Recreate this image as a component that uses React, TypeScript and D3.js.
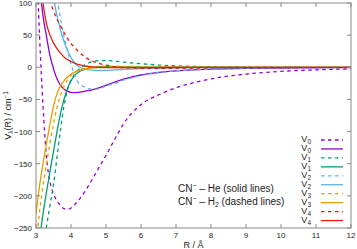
import React from 'react'
import * as d3 from 'd3'

// R grid (Å) shared by all curves
const rGrid = [3.0, 3.1, 3.2, 3.3, 3.4, 3.5, 3.6, 3.7, 3.8, 3.9, 4.0, 4.1, 4.2, 4.4, 4.6, 4.8, 5.0, 5.25, 5.5, 6.0, 6.5, 7.0, 7.5, 8.0, 9.0, 10, 11, 12]

// CN- - H2 (dashed)
const v0H2 = [190, 50, -60, -140, -178, -197, -208, -215, -220, -221, -219, -214, -208, -193, -175, -156, -137, -112, -88, -58, -43, -32, -24, -18, -10.5, -6.3, -4, -2.5]
const v1H2 = [-380, -330, -290, -248, -215, -183, -140, -97, -60, -35, -20, -12, -5, 4, 8.5, 10.3, 10.5, 9.5, 8, 5.5, 3.5, 2.2, 1.3, 0.8, 0.3, 0.1, 0, 0]
const v2H2 = [420, 330, 260, 205, 168, 143, 108, 75, 48, 25, 5, -12, -23, -31, -34, -33.5, -29, -25, -20, -13, -8.5, -5.5, -3.8, -2.7, -1.5, -0.9, -0.6, -0.4]
const v3H2 = [-280, -225, -185, -150, -118, -88, -62, -43, -30, -20, -13, -8, -5, -1.5, 0.5, 1.5, 1.8, 1.7, 1.5, 1, 0.7, 0.5, 0.3, 0.2, 0.1, 0, 0, 0]
const v4H2 = [300, 220, 170, 135, 104, 88, 75, 64, 54, 45, 37, 31, 25, 16, 10, 6, 3.5, 1, -0.5, -1.5, -1.8, -1.6, -1.3, -1, -0.6, -0.4, -0.2, -0.1]

// CN- - He (solid)
const v0He = [190, 130, 80, 48, 18, -2, -18, -28, -34, -37, -39, -39.5, -39, -37, -35, -32, -28, -23, -18.5, -12, -8, -5.5, -4, -3, -1.8, -1.2, -0.8, -0.5]
const v1He = [-320, -268, -228, -194, -162, -131, -100, -72, -50, -33, -21, -13, -8, -3, -0.5, 0.5, 1, 0.8, 0.6, 0.4, 0.3, 0.2, 0.1, 0.1, 0, 0, 0, 0]
const v2He = [330, 260, 205, 178, 140, 108, 80, 58, 40, 26, 15, 7, 2, -3, -4.5, -5, -4.8, -4, -3.3, -2.2, -1.5, -1, -0.7, -0.5, -0.3, -0.2, -0.1, 0]
const v3He = [-228, -185, -150, -118, -88, -60, -41, -29, -21, -15, -11, -8, -5.5, -2.5, -1, -0.3, 0, 0, 0, 0, 0, 0, 0, 0, 0, 0, 0, 0]
const v4He = [250, 160, 100, 68, 50, 38, 29, 22, 16, 12, 9, 6.5, 4.5, 2, 0.6, -0.2, -0.5, -0.6, -0.6, -0.5, -0.4, -0.3, -0.25, -0.2, -0.1, 0, 0, 0]

const xTicks = [3, 4, 5, 6, 7, 8, 9, 10, 11, 12]
const yTicks = [100, 50, 0, -50, -100, -150, -200, -250]

const colors = ['#9400d3', '#009e73', '#56b4e9', '#e69f00', '#e51e10']

// drawing order = legend order
const series = [
  { idx: 0, values: v0H2, dashed: true },
  { idx: 0, values: v0He, dashed: false },
  { idx: 1, values: v1H2, dashed: true },
  { idx: 1, values: v1He, dashed: false },
  { idx: 2, values: v2H2, dashed: true },
  { idx: 2, values: v2He, dashed: false },
  { idx: 3, values: v3H2, dashed: true },
  { idx: 3, values: v3He, dashed: false },
  { idx: 4, values: v4H2, dashed: true },
  { idx: 4, values: v4He, dashed: false },
]

const width = 357
const height = 249
const margin = { top: 3, right: 6, bottom: 21, left: 36 }
const font = 'Liberation Sans, Arial, sans-serif'

export default function App() {
  const x = d3.scaleLinear().domain([3, 12]).range([margin.left, width - margin.right])
  const y = d3.scaleLinear().domain([-250, 100]).range([height - margin.bottom, margin.top])
  const line = d3
    .line<number>()
    .x((_, i) => x(rGrid[i]))
    .y((d) => y(d))
    .curve(d3.curveMonotoneX)

  const [x0, x1] = x.range()
  const [y0, y1] = [y(100), y(-250)]
  const tick = 4
  const dash = '3.5,3.5'

  return (
    <svg width={width} height={height} style={{ position: 'absolute', left: 0, top: 0, background: '#fff' }}>
      <defs>
        <clipPath id='plotClip'>
          <rect x={x0} y={y0} width={x1 - x0} height={y1 - y0} />
        </clipPath>
      </defs>

      {/* curves */}
      <g clipPath='url(#plotClip)' fill='none'>
        {series.map((s, i) => (
          <path
            key={i}
            d={line(s.values) || ''}
            stroke={colors[s.idx]}
            strokeWidth={1.3}
            strokeDasharray={s.dashed ? dash : undefined}
          />
        ))}
      </g>

      {/* frame + ticks */}
      <g stroke='#888' strokeWidth={1} fill='none'>
        <rect x={x0} y={y0} width={x1 - x0} height={y1 - y0} />
        {xTicks.map((t) => (
          <g key={t}>
            <line x1={x(t)} x2={x(t)} y1={y1} y2={y1 - tick} />
            <line x1={x(t)} x2={x(t)} y1={y0} y2={y0 + tick} />
          </g>
        ))}
        {yTicks.map((t) => (
          <g key={t}>
            <line x1={x0} x2={x0 + tick} y1={y(t)} y2={y(t)} />
            <line x1={x1} x2={x1 - tick} y1={y(t)} y2={y(t)} />
          </g>
        ))}
      </g>

      {/* tick labels */}
      <g fontFamily={font} fontSize={8} fill='#222'>
        {xTicks.map((t) => (
          <text key={t} x={x(t)} y={y1 + 10} textAnchor='middle'>
            {t}
          </text>
        ))}
        {yTicks.map((t) => (
          <text key={t} x={x0 - 4} y={y(t) + 3} textAnchor='end'>
            {t < 0 ? '\u2212' + Math.abs(t) : t}
          </text>
        ))}
      </g>

      {/* axis titles */}
      <text x={(x0 + x1) / 2} y={height - 1} textAnchor='middle' fontFamily={font} fontSize={9} fill='#222'>
        R / Å
      </text>
      <text
        transform={`translate(11, ${(y0 + y1) / 2}) rotate(-90)`}
        textAnchor='middle'
        fontFamily={font}
        fontSize={9}
        fill='#222'
      >
        V<tspan fontSize={6.5} dy={2}>λ</tspan>
        <tspan dy={-2}>(R) / cm</tspan>
        <tspan fontSize={6.5} dy={-3}>−1</tspan>
      </text>

      {/* annotations */}
      <g fontFamily={font} fontSize={10} fill='#222'>
        <text x={178} y={192}>
          CN<tspan fontSize={7} dy={-4}>−</tspan>
          <tspan dy={4}> – He (solid lines)</tspan>
        </text>
        <text x={178} y={205}>
          CN<tspan fontSize={7} dy={-4}>−</tspan>
          <tspan dy={4}> – H</tspan>
          <tspan fontSize={7} dy={2}>2</tspan>
          <tspan dy={-2}> (dashed lines)</tspan>
        </text>
      </g>

      {/* legend */}
      <g fontFamily={font} fontSize={9} fill='#222'>
        {series.map((s, i) => {
          const ly = 140 + i * 8.95
          return (
            <g key={i}>
              <text x={311} y={ly + 2} textAnchor='end'>
                V<tspan fontSize={6.5} dy={2}>{s.idx}</tspan>
              </text>
              <line
                x1={321}
                x2={343}
                y1={ly}
                y2={ly}
                stroke={colors[s.idx]}
                strokeWidth={1.3}
                strokeDasharray={s.dashed ? dash : undefined}
              />
            </g>
          )
        })}
      </g>
    </svg>
  )
}
